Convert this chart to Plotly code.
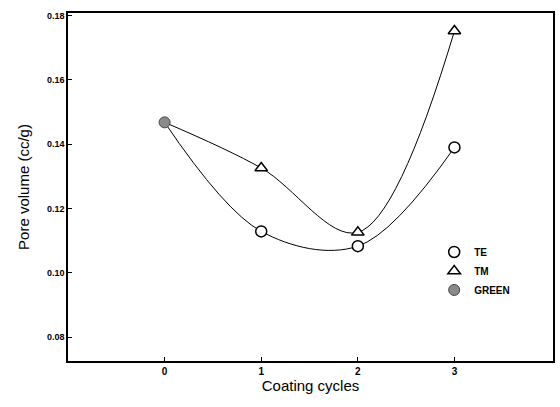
import plotly.graph_objects as go

# Data
green_x = [0]
green_y = [0.1468]
te_x = [1, 2, 3]
te_y = [0.1129, 0.1083, 0.1390]
tm_x = [1, 2, 3]
tm_y = [0.1326, 0.1126, 0.1752]

x_ticks = [0, 1, 2, 3]
y_ticks = [0.08, 0.10, 0.12, 0.14, 0.16, 0.18]
y_tick_text = ["0.08", "0.10", "0.12", "0.14", "0.16", "0.18"]

fig = go.Figure()

# smooth curves (start at the green point)
fig.add_trace(go.Scatter(x=green_x + te_x, y=green_y + te_y, mode="lines",
                         line=dict(color="black", width=1, shape="spline", smoothing=1.0),
                         showlegend=False, hoverinfo="skip"))
fig.add_trace(go.Scatter(x=green_x + tm_x, y=green_y + tm_y, mode="lines",
                         line=dict(color="black", width=1, shape="spline", smoothing=1.0),
                         showlegend=False, hoverinfo="skip"))

fig.add_trace(go.Scatter(x=te_x, y=te_y, mode="markers", name="TE",
                         marker=dict(symbol="circle", size=11, color="white",
                                     line=dict(color="black", width=1.5))))
fig.add_trace(go.Scatter(x=tm_x, y=tm_y, mode="markers", name="TM",
                         marker=dict(symbol="triangle-up", size=11, color="white",
                                     line=dict(color="black", width=1.5))))
fig.add_trace(go.Scatter(x=green_x, y=green_y, mode="markers", name="GREEN",
                         marker=dict(symbol="circle", size=11, color="#8a8a8a",
                                     line=dict(color="#444444", width=1))))

fig.update_layout(
    width=560, height=407,
    margin=dict(l=68, r=5, t=13, b=46),
    paper_bgcolor="white", plot_bgcolor="white",
    font=dict(family="Liberation Sans, Arial, sans-serif", color="black"),
    legend=dict(x=0.755, y=0.355, xanchor="left", yanchor="top",
                bgcolor="rgba(0,0,0,0)", borderwidth=0,
                font=dict(size=10, family="Liberation Sans, Arial, sans-serif", weight="bold"),
                tracegroupgap=0, itemwidth=30),
    xaxis=dict(range=[-1.0, 4.02], tickvals=x_ticks, ticktext=[str(v) for v in x_ticks],
               ticks="inside", ticklen=4, tickwidth=1, tickcolor="black",
               showline=True, linecolor="black", linewidth=1.5, mirror=True,
               showgrid=False, zeroline=False,
               tickfont=dict(size=10, weight="bold"),
               title=dict(text="Coating cycles", font=dict(size=15), standoff=2)),
    yaxis=dict(range=[0.0726, 0.1808], tickvals=y_ticks, ticktext=y_tick_text,
               ticks="inside", ticklen=4, tickwidth=1, tickcolor="black",
               showline=True, linecolor="black", linewidth=1.5, mirror=True,
               showgrid=False, zeroline=False,
               tickfont=dict(size=9, weight="bold"),
               title=dict(text="Pore volume (cc/g)", font=dict(size=15), standoff=14)),
)

fig.write_html("out.html")
